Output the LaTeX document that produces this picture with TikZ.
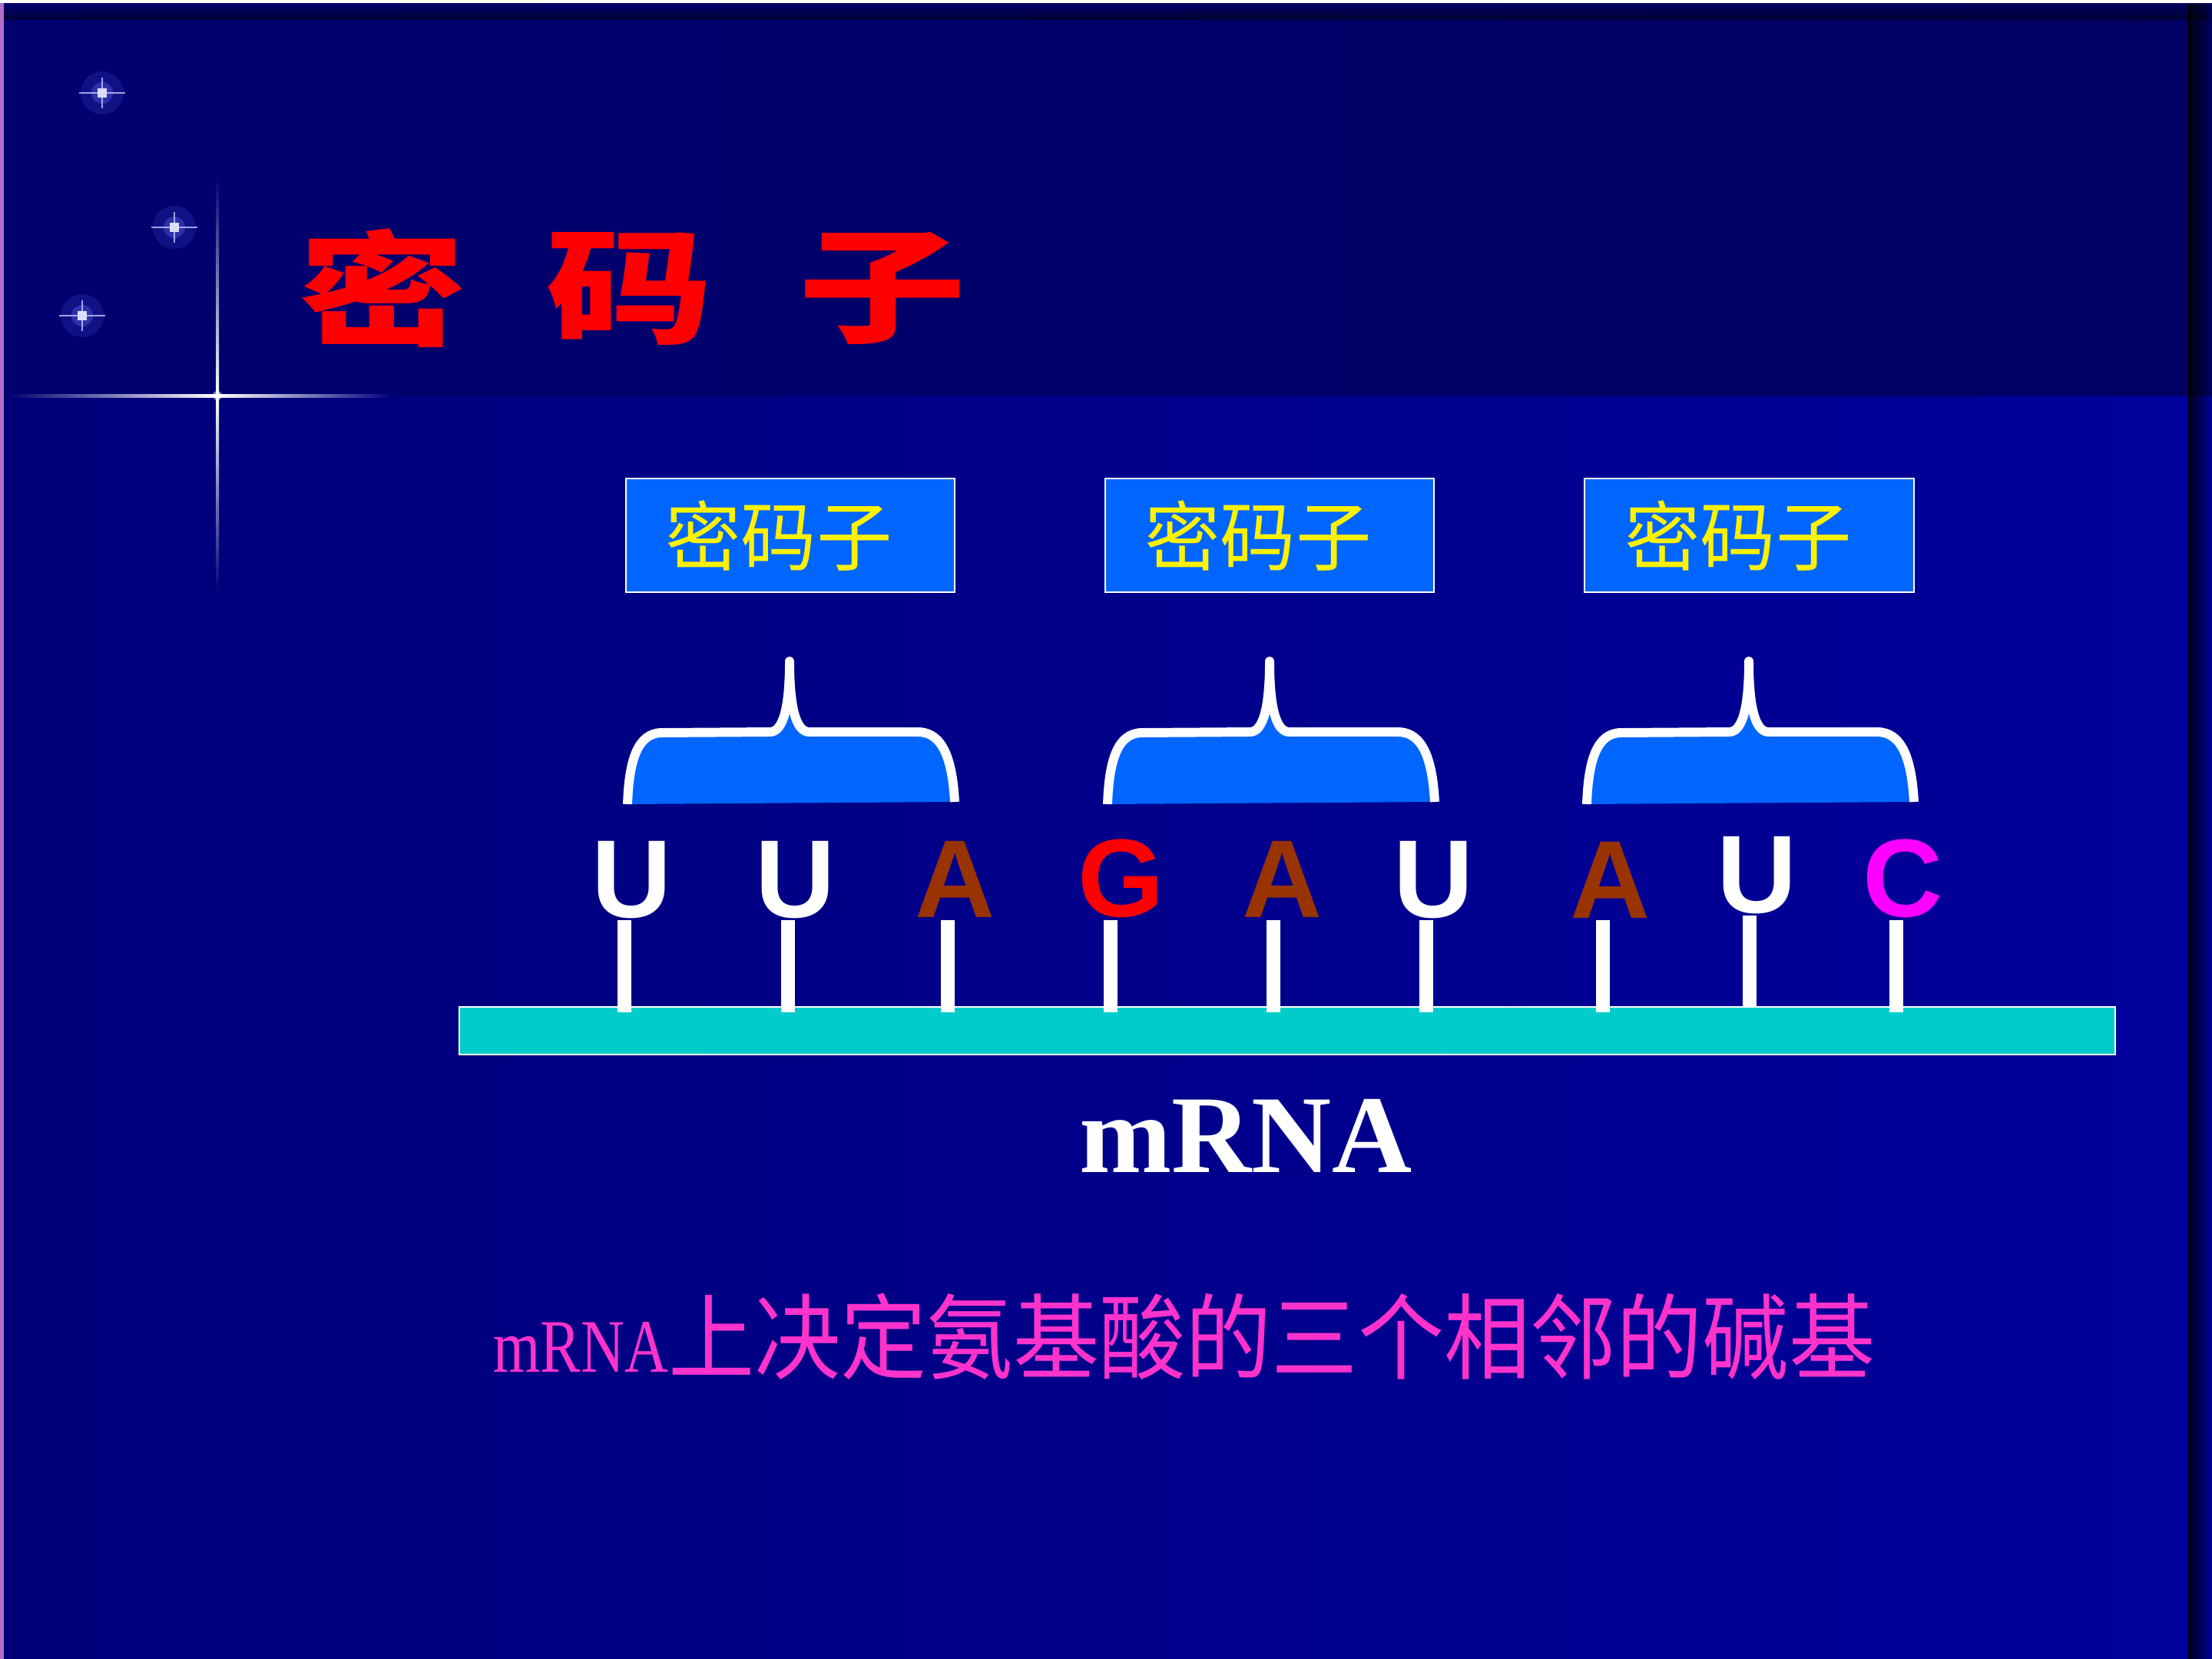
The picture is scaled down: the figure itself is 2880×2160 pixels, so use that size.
\documentclass[tikz,border=0pt]{standalone}
\usepackage{fontspec}
\setmainfont{Liberation Serif}
\newfontfamily\arialf{Liberation Sans}
\newfontfamily\cjk{Noto Sans CJK SC}
\usetikzlibrary{fadings}
\definecolor{bgtopL}{RGB}{0,0,112}
\definecolor{bgtopR}{RGB}{0,0,98}
\definecolor{bglowL}{RGB}{0,0,122}
\definecolor{bglowR}{RGB}{0,0,155}
\definecolor{boxblue}{RGB}{0,102,255}
\definecolor{barcyan}{RGB}{0,204,204}
\definecolor{abrown}{RGB}{153,51,0}
\definecolor{cmag}{RGB}{255,0,255}
\definecolor{pinktext}{RGB}{255,51,204}
\definecolor{starglow}{RGB}{110,120,255}
\definecolor{edgepink}{RGB}{180,110,200}
\begin{document}
\begin{tikzpicture}[x=0.01cm,y=-0.01cm,
  codonbox/.style={draw=white, line width=0.6pt, fill=boxblue, minimum width=4.28cm, minimum height=1.48cm, inner sep=0pt},
  boxlabel/.style={text=yellow, font=\cjk\fontsize{28}{28}\selectfont, inner sep=0pt},
  nucleo/.style={font=\arialf\bfseries\fontsize{41}{41}\selectfont, inner sep=0pt, anchor=base},
  tickline/.style={white, line width=5.1pt},
  bracefill/.style={fill=boxblue},
  braceline/.style={draw=white, line width=3.4pt, line join=round},
  titlech/.style={text=red, font=\cjk\bfseries\fontsize{46}{46}\selectfont, inner sep=0pt},
  starray/.style={white!60!starglow, line width=0.6pt, opacity=0.8},
]
\useasboundingbox (0,0) rectangle (2880,2160);
% background
\shade[left color=bglowL, right color=bglowR] (0,0) rectangle (2880,2160);
\shade[left color=bgtopL, right color=bgtopR] (0,0) rectangle (2880,515);
\fill[black, opacity=0.5, path fading=north] (0,4) rectangle (2880,26);
\fill[white] (0,0) rectangle (2880,4);
\fill[edgepink] (0,4) rectangle (5,2160);
\fill[black, opacity=0.85, path fading=east] (2848,4) rectangle (2880,2160);
% cross glint
\shade[top color=bgtopL, bottom color=white] (281,230) rectangle (285,515);
\shade[top color=white, bottom color=bglowL] (281,515) rectangle (285,770);
\shade[left color=bgtopL, right color=white] (10,513) rectangle (283,517);
\shade[left color=white, right color=bglowL] (283,513) rectangle (510,517);
\fill[white, opacity=0.5] (283,515) circle (6);
% stars
\foreach \sx/\sy in {133/121, 227/296, 107/411} {
  \fill[starglow, opacity=0.15] (\sx,\sy) circle (28);
  \fill[starglow, opacity=0.3] (\sx,\sy) circle (14);
  \draw[starray] (\sx-30,\sy) -- (\sx+30,\sy);
  \draw[starray] (\sx,\sy-20) -- (\sx,\sy+20);
  \fill[white!75!starglow] (\sx-6,\sy-6) rectangle (\sx+6,\sy+6);
}
% title
\node[titlech] (t1) at (498,375) {\scalebox{1.35}[1]{密}};
\node[titlech] (t2) at (820,376) {\scalebox{1.35}[1]{码}};
\node[titlech] (t3) at (1149,376) {\scalebox{1.35}[1]{子}};
% codon boxes
\node[codonbox] (box1) at (1029,697) {};
\node[codonbox] (box2) at (1653,697) {};
\node[codonbox] (box3) at (2277.5,697) {};
\node[boxlabel] (lab1) at (1014,698) {密码子};
\node[boxlabel] (lab2) at (1638,698) {密码子};
\node[boxlabel] (lab3) at (2263,698) {密码子};
% braces
\foreach \cx in {1028,1653,2277} {
  \begin{scope}[shift={(\cx,0)}]
    \fill[bracefill] (-211,1047) .. controls (-209,990) and (-198,954) .. (-166,954)
      -- (-25,953) .. controls (-8,952) and (0,920) .. (0,861)
      .. controls (0,920) and (8,952) .. (25,953) -- (167,953)
      .. controls (200,953) and (212,990) .. (215,1044) -- cycle;
    \draw[braceline] (-211,1047) .. controls (-209,990) and (-198,954) .. (-166,954)
      -- (-25,953) .. controls (-8,952) and (0,920) .. (0,861)
      .. controls (0,920) and (8,952) .. (25,953) -- (167,953)
      .. controls (200,953) and (212,990) .. (215,1044);
  \end{scope}
}
% mRNA bar
\node[draw=white, line width=0.6pt, fill=barcyan, minimum width=21.54cm, minimum height=0.62cm, inner sep=0pt] (bar) at (1676,1342) {};
% ticks
\foreach \tx in {813,1026,1234,1446,1658,1857,2087,2469} {
  \draw[tickline] (\tx,1198) -- (\tx,1318);
}
\draw[tickline] (2278,1192) -- (2278,1311);
% bases
\node[nucleo, text=white] (n1) at (823,1194) {U};
\node[nucleo, text=white] (n2) at (1036,1194) {U};
\node[nucleo, text=abrown] (n3) at (1244,1194) {A};
\node[nucleo, text=red] (n4) at (1460,1193) {G};
\node[nucleo, text=abrown] (n5) at (1670,1194) {A};
\node[nucleo, text=white] (n6) at (1867,1194) {U};
\node[nucleo, text=abrown] (n7) at (2097,1195) {A};
\node[nucleo, text=white] (n8) at (2288,1188) {U};
\node[nucleo, text=cmag] (n9) at (2478,1193) {C};
% labels
\node[font=\bfseries\fontsize{41}{41}\selectfont, text=white, anchor=base, inner sep=0pt] (lbl) at (1622,1526) {mRNA};
\node[anchor=base west, inner sep=0pt, text=pinktext] (desc) at (642,1786) {\scalebox{0.8}[1]{\fontsize{28}{28}\selectfont mRNA}\scalebox{0.925}[1]{\cjk\fontsize{34.5}{34.5}\selectfont 上决定氨基酸的三个相邻的碱基}};
\end{tikzpicture}
\end{document}
